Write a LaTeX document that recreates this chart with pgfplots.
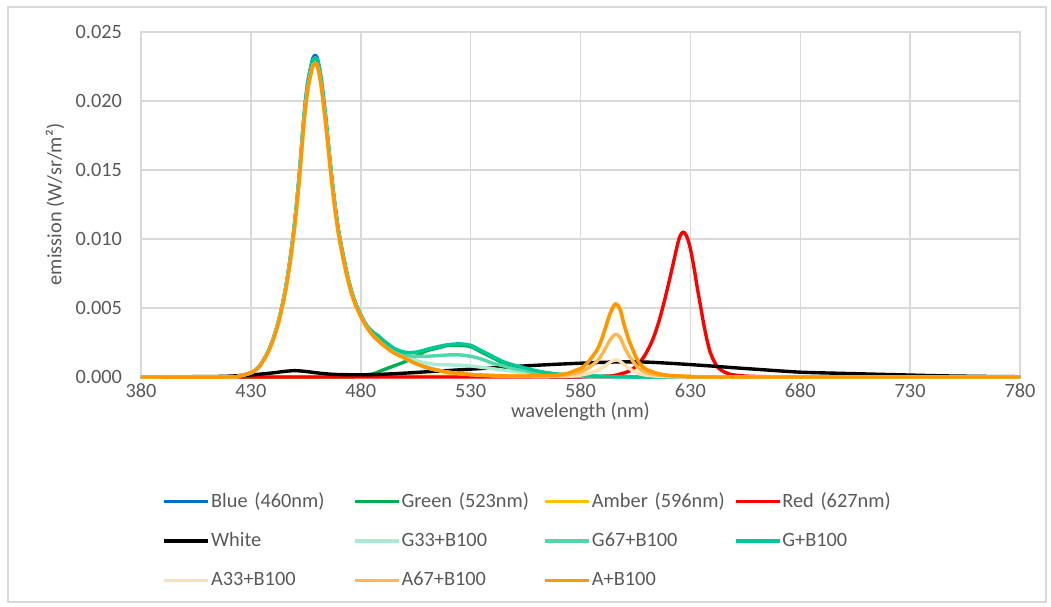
\documentclass[border=0pt]{standalone}
\usepackage{pgfplots}
\pgfplotsset{compat=1.18}
\usepackage{fontspec}
\setmainfont{Carlito}
\definecolor{txt}{RGB}{89,89,89}
\definecolor{gridc}{RGB}{217,217,217}
\definecolor{cBlue}{RGB}{0,112,192}
\definecolor{cGreen}{RGB}{0,176,80}
\definecolor{cAmber}{RGB}{255,192,0}
\definecolor{cRed}{RGB}{255,0,0}
\definecolor{cWhite}{RGB}{0,0,0}
\definecolor{cGa}{RGB}{170,235,210}
\definecolor{cGb}{RGB}{80,215,170}
\definecolor{cGc}{RGB}{0,200,150}
\definecolor{cAa}{RGB}{255,224,178}
\definecolor{cAb}{RGB}{255,183,77}
\definecolor{cAc}{RGB}{255,152,0}
\newcommand{\fs}{\fontsize{10.2}{12}\selectfont}
\begin{document}
\begin{tikzpicture}
\path[use as bounding box] (-70.5bp,-115bp) rectangle (455bp,188.5bp);
\draw[gridc, line width=0.75bp] (-66.5bp,-112.5bp) rectangle (452.5bp,185bp);
\begin{axis}[
  at={(0,0)}, anchor=south west,
  scale only axis, width=439.5bp, height=172.5bp,
  xmin=380, xmax=780, ymin=0, ymax=0.025,
  xtick={380,430,480,530,580,630,680,730,780},
  ytick={0,0.005,0.01,0.015,0.02,0.025},
  scaled y ticks=false,
  yticklabel style={xshift=-6bp, /pgf/number format/.cd, fixed, fixed zerofill, precision=3},
  /pgf/number format/assume math mode=true,
  tick label style={font=\fs, text=txt},
  major tick length=0pt,
  grid=major,
  major grid style={gridc, line width=0.75bp},
  axis line style={gridc, line width=0.75bp},
  clip=false,
  every axis x label/.style={at={(axis description cs:0.5,-0.1014)}, anchor=center, font=\fs, text=txt},
  every axis y label/.style={at={(axis description cs:-0.0978,0.5)}, rotate=90, anchor=center, font=\fs, text=txt},
  xlabel={wavelength (nm)},
  ylabel={emission (W/sr/m²)},
  every axis plot/.append style={line width=1.7bp, smooth, line join=round},
  legend columns=4,
  legend image code/.code={\draw[#1, line width=1.7bp] (0bp,0bp) -- (22bp,0bp);},
  legend style={draw=none, fill=none, font=\fs, text=txt,
    at={(axis description cs:0.0175,-0.31)}, anchor=north west,
    nodes={text width=70.5bp, inner xsep=0.5bp, align=left},
    row sep=7.25bp},
]
% Blue (460nm)
\addplot[cBlue] coordinates {(380,0)(420,0)(425,0.0001)(428,0.0002)(430,0.0003)(432,0.0005)(434,0.0008)(436,0.0013)(438,0.0019)(440,0.0027)(442,0.0037)(444,0.0050)(446,0.0066)(448,0.0087)(450,0.0113)(452,0.0146)(454,0.0186)(455,0.0202)(456,0.0215)(457,0.0223)(458,0.0230)(459,0.0233)(460,0.0232)(461,0.0226)(462,0.0216)(463,0.0203)(464,0.0189)(465,0.0173)(466,0.0157)(467,0.0142)(468,0.0128)(469,0.0116)(470,0.0105)(472,0.0088)(474,0.0073)(476,0.0061)(478,0.0052)(480,0.0045)(482,0.0039)(484,0.0034)(486,0.0030)(488,0.0027)(490,0.0024)(495,0.0018)(500,0.0014)(505,0.0010)(510,0.0007)(515,0.0005)(520,0.00035)(530,0.00018)(540,0.0001)(550,0.00005)(570,0.00001)(600,0)(780,0)};
\addlegendentry{Blue (460nm)}
% Green (523nm)
\addplot[cGreen] coordinates {(380,0)(470,0)(475,0.00005)(480,0.0001)(485,0.0002)(490,0.0005)(495,0.0008)(500,0.0011)(505,0.0015)(510,0.0019)(515,0.0021)(520,0.0023)(525,0.0023)(530,0.0022)(535,0.0018)(540,0.0014)(545,0.0010)(550,0.0008)(555,0.0006)(560,0.0004)(565,0.0003)(570,0.0002)(580,0.0001)(590,0.00005)(600,0.00002)(620,0)(780,0)};
\addlegendentry{Green (523nm)}
% Amber (596nm)
\addplot[cAmber] coordinates {(380,0)(560,0.00008)(570,0.00015)(575,0.0003)(578,0.0005)(580,0.0006)(583,0.001)(586,0.0016)(588,0.0021)(590,0.0029)(592,0.0039)(594,0.0048)(596,0.0053)(598,0.0049)(600,0.0037)(602,0.0027)(604,0.0019)(606,0.0012)(608,0.0008)(610,0.00055)(615,0.00025)(620,0.00012)(630,0.00004)(640,0)(780,0)};
\addlegendentry{Amber (596nm)}
% Red (627nm)
\addplot[cRed] coordinates {(380,0)(580,0)(590,0.00005)(595,0.0001)(600,0.0003)(603,0.0005)(606,0.0009)(609,0.0015)(612,0.0024)(614,0.0032)(616,0.0042)(618,0.0054)(620,0.0067)(622,0.0081)(623,0.0088)(624,0.0095)(625,0.0101)(626,0.0104)(627,0.0105)(628,0.0103)(629,0.0099)(630,0.0093)(631,0.0085)(632,0.0076)(633,0.0066)(634,0.0057)(635,0.0048)(636,0.0039)(637,0.0031)(638,0.0024)(639,0.0018)(640,0.0014)(642,0.0008)(644,0.0005)(648,0.0002)(655,0.00007)(665,0.00002)(680,0)(780,0)};
\addlegendentry{Red (627nm)}
% White
\addplot[cWhite] coordinates {(380,0)(410,0.00003)(420,0.00006)(430,0.00015)(440,0.0003)(445,0.0004)(450,0.00046)(455,0.0004)(460,0.0003)(465,0.00022)(470,0.00018)(480,0.00016)(490,0.0002)(500,0.00028)(510,0.00038)(520,0.00047)(530,0.00057)(540,0.00066)(550,0.00076)(560,0.00085)(570,0.00093)(580,0.001)(590,0.00106)(600,0.0011)(610,0.00108)(620,0.001)(630,0.0009)(640,0.00079)(650,0.00067)(660,0.00056)(670,0.00045)(680,0.00035)(690,0.0003)(700,0.00026)(710,0.00022)(720,0.00018)(730,0.00014)(740,0.0001)(750,0.00007)(760,0.00005)(770,0.00003)(780,0.00002)};
\addlegendentry{White}
% G33+B100
\addplot[cGa] coordinates {(380,0)(420,0)(425,0.0001)(428,0.0002)(430,0.0003)(432,0.0005)(434,0.0008)(436,0.0013)(438,0.0019)(440,0.0027)(442,0.0037)(444,0.0050)(446,0.0066)(448,0.0087)(450,0.0113)(452,0.0146)(454,0.0186)(455,0.0202)(456,0.0214)(457,0.0221)(458,0.0228)(459,0.0231)(460,0.0230)(461,0.0224)(462,0.0216)(463,0.0203)(464,0.0189)(465,0.0173)(466,0.0157)(467,0.0142)(468,0.0128)(469,0.0116)(470,0.0105)(472,0.0088)(474,0.0073)(476,0.0061)(478,0.0052)(480,0.0045)(482,0.0039)(484,0.0034)(486,0.0031)(488,0.0028)(490,0.0026)(495,0.0019)(500,0.0015)(505,0.0012)(510,0.0010)(515,0.0009)(520,0.00088)(525,0.00085)(530,0.0008)(540,0.0006)(550,0.0004)(560,0.0002)(570,0.0001)(580,0.00005)(600,0)(780,0)};
\addlegendentry{G33+B100}
% G67+B100
\addplot[cGb] coordinates {(380,0)(420,0)(425,0.0001)(428,0.0002)(430,0.0003)(432,0.0005)(434,0.0008)(436,0.0013)(438,0.0019)(440,0.0027)(442,0.0037)(444,0.0050)(446,0.0066)(448,0.0087)(450,0.0113)(452,0.0146)(454,0.0186)(455,0.0202)(456,0.0214)(457,0.0221)(458,0.0228)(459,0.0231)(460,0.0230)(461,0.0224)(462,0.0216)(463,0.0203)(464,0.0189)(465,0.0173)(466,0.0157)(467,0.0142)(468,0.0128)(469,0.0116)(470,0.0105)(472,0.0088)(474,0.0073)(476,0.0061)(478,0.0052)(480,0.0045)(482,0.0039)(484,0.0034)(486,0.0031)(488,0.0029)(490,0.0026)(495,0.0019)(500,0.0016)(505,0.0015)(510,0.0015)(515,0.00155)(520,0.0016)(525,0.0016)(530,0.0015)(535,0.0013)(540,0.0010)(545,0.0008)(550,0.0006)(555,0.00045)(560,0.0003)(570,0.00015)(580,0.00007)(600,0.00001)(620,0)(780,0)};
\addlegendentry{G67+B100}
% G+B100
\addplot[cGc] coordinates {(380,0)(420,0)(425,0.0001)(428,0.0002)(430,0.0003)(432,0.0005)(434,0.0008)(436,0.0013)(438,0.0019)(440,0.0027)(442,0.0037)(444,0.0050)(446,0.0066)(448,0.0087)(450,0.0113)(452,0.0146)(454,0.0186)(455,0.0202)(456,0.0214)(457,0.0221)(458,0.0228)(459,0.0231)(460,0.0230)(461,0.0224)(462,0.0216)(463,0.0203)(464,0.0189)(465,0.0173)(466,0.0157)(467,0.0142)(468,0.0128)(469,0.0116)(470,0.0105)(472,0.0088)(474,0.0073)(476,0.0061)(478,0.0052)(480,0.0045)(482,0.0039)(484,0.0035)(486,0.0032)(488,0.0030)(490,0.0027)(495,0.0021)(500,0.0018)(505,0.0018)(510,0.0020)(515,0.0022)(520,0.00235)(525,0.0024)(530,0.0023)(535,0.0019)(540,0.0015)(545,0.0011)(550,0.00085)(555,0.00065)(560,0.00045)(565,0.0003)(570,0.0002)(580,0.0001)(590,0.00005)(600,0.00002)(620,0)(780,0)};
\addlegendentry{G+B100}
% A33+B100
\addplot[cAa] coordinates {(380,0)(420,0)(425,0.0001)(428,0.0002)(430,0.0003)(432,0.00049)(434,0.00078)(436,0.00127)(438,0.00185)(440,0.00263)(442,0.00361)(444,0.00488)(446,0.00644)(448,0.00848)(450,0.01102)(452,0.01424)(454,0.01814)(455,0.0197)(456,0.02096)(457,0.02174)(458,0.02243)(459,0.02272)(460,0.02262)(461,0.02204)(462,0.02106)(463,0.01979)(464,0.01843)(465,0.01687)(466,0.01531)(467,0.01385)(468,0.01248)(469,0.01131)(470,0.01024)(472,0.00858)(474,0.00712)(476,0.00595)(478,0.00507)(480,0.00439)(482,0.0038)(484,0.00332)(486,0.00293)(488,0.00263)(490,0.00234)(495,0.00176)(500,0.00137)(505,0.00098)(510,0.00068)(515,0.00049)(520,0.00034)(530,0.00018)(540,0.0001)(550,0.00005)(560,0.00003)(570,0.00004)(575,0.00007)(578,0.00012)(580,0.00014)(583,0.00023)(586,0.00037)(588,0.00049)(590,0.00068)(592,0.00091)(594,0.00112)(596,0.00124)(598,0.00115)(600,0.00087)(602,0.00063)(604,0.00044)(606,0.00028)(608,0.00019)(610,0.00013)(615,0.00006)(620,0.00003)(640,0)(780,0)};
\addlegendentry{A33+B100}
% A67+B100
\addplot[cAb] coordinates {(380,0)(420,0)(425,0.0001)(428,0.0002)(430,0.0003)(432,0.00049)(434,0.00078)(436,0.00127)(438,0.00185)(440,0.00263)(442,0.00361)(444,0.00488)(446,0.00644)(448,0.00848)(450,0.01102)(452,0.01424)(454,0.01814)(455,0.0197)(456,0.02096)(457,0.02174)(458,0.02243)(459,0.02272)(460,0.02262)(461,0.02204)(462,0.02106)(463,0.01979)(464,0.01843)(465,0.01687)(466,0.01531)(467,0.01385)(468,0.01248)(469,0.01131)(470,0.01024)(472,0.00858)(474,0.00712)(476,0.00595)(478,0.00507)(480,0.00439)(482,0.0038)(484,0.00332)(486,0.00293)(488,0.00263)(490,0.00234)(495,0.00176)(500,0.00137)(505,0.00098)(510,0.00068)(515,0.00049)(520,0.00034)(530,0.00018)(540,0.0001)(550,0.00006)(560,0.00006)(570,0.00009)(575,0.00018)(578,0.00029)(580,0.00035)(583,0.00059)(586,0.00094)(588,0.00123)(590,0.0017)(592,0.00228)(594,0.00281)(596,0.0031)(598,0.00287)(600,0.00216)(602,0.00158)(604,0.00111)(606,0.0007)(608,0.00047)(610,0.00032)(615,0.00015)(620,0.00007)(630,0.00002)(640,0)(780,0)};
\addlegendentry{A67+B100}
% A+B100
\addplot[cAc] coordinates {(380,0)(420,0)(425,0.0001)(428,0.0002)(430,0.0003)(432,0.00049)(434,0.00078)(436,0.00127)(438,0.00185)(440,0.00263)(442,0.00361)(444,0.00488)(446,0.00644)(448,0.00848)(450,0.01102)(452,0.01424)(454,0.01814)(455,0.0197)(456,0.02096)(457,0.02174)(458,0.02243)(459,0.02272)(460,0.02262)(461,0.02204)(462,0.02106)(463,0.01979)(464,0.01843)(465,0.01687)(466,0.01531)(467,0.01385)(468,0.01248)(469,0.01131)(470,0.01024)(472,0.00858)(474,0.00712)(476,0.00595)(478,0.00507)(480,0.00439)(482,0.0038)(484,0.00332)(486,0.00293)(488,0.00263)(490,0.00234)(495,0.00176)(500,0.00137)(505,0.00098)(510,0.00068)(515,0.00049)(520,0.00034)(530,0.00018)(540,0.0001)(550,0.00007)(560,0.00009)(570,0.00015)(575,0.0003)(578,0.0005)(580,0.0006)(583,0.001)(586,0.0016)(588,0.0021)(590,0.0029)(592,0.0039)(594,0.0048)(596,0.0053)(598,0.0049)(600,0.0037)(602,0.0027)(604,0.0019)(606,0.0012)(608,0.0008)(610,0.00055)(615,0.00025)(620,0.00012)(630,0.00004)(640,0)(780,0)};
\addlegendentry{A+B100}
\end{axis}
\end{tikzpicture}
\end{document}
